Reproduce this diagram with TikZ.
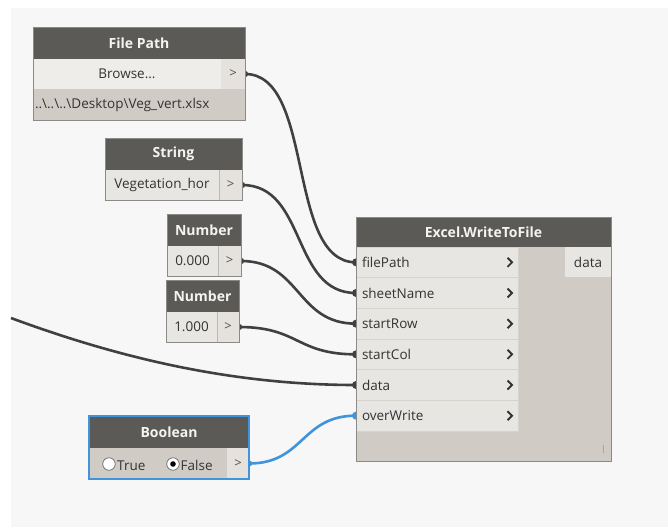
\documentclass[tikz,border=0pt]{standalone}
\usepackage{fontspec}
\setmainfont{Open Sans}
\usetikzlibrary{calc}

\definecolor{canvasgray}{HTML}{F7F7F7}
\definecolor{headgray}{HTML}{5C5A56}
\definecolor{headtext}{HTML}{F4F4F4}
\definecolor{rowlight}{HTML}{E8E6E2}
\definecolor{browselight}{HTML}{EEEDEA}
\definecolor{bodygray}{HTML}{D0CCC5}
\definecolor{portgray}{HTML}{E5E2DD}
\definecolor{framegray}{HTML}{8C8A87}
\definecolor{sepgray}{HTML}{D6D2CC}
\definecolor{inktext}{HTML}{333333}
\definecolor{wiregray}{HTML}{404040}
\definecolor{wireblue}{HTML}{3F94DC}

\pgfdeclarelayer{canvas}
\pgfdeclarelayer{wires}
\pgfsetlayers{canvas,wires,main}

\begin{document}
\begin{tikzpicture}[x=1pt,y=-1pt,
  part/.style 2 args={anchor=north west, inner sep=0pt, outer sep=0pt,
    minimum width=#1pt, minimum height=#2pt},
  title/.style={fill=headgray, text=headtext, font=\bfseries\fontsize{14}{16}\selectfont},
  label/.style={text=inktext, font=\fontsize{13.5}{16}\selectfont},
  portbox/.style={fill=portgray, text=inktext!85, font=\fontsize{13}{16}\selectfont},
  inrow/.style={fill=rowlight, draw=sepgray, line width=0.8pt, label,
    text width=150pt, align=left},
  frame/.style={draw=framegray, line width=1pt},
  chevron/.style={draw=inktext, line width=1.9pt},
  wire/.style={draw=wiregray, line width=2.6pt},
  bluewire/.style={draw=wireblue, line width=2.6pt},
  radio/.style={draw=gray!80!black, fill=white, line width=0.7pt}
]
\useasboundingbox (0,0) rectangle (668,527);

% canvas
\begin{pgfonlayer}{canvas}
  \fill[white] (0,0) rectangle (668,527);
  \fill[canvasgray] (11,8) rectangle (668,527);
\end{pgfonlayer}

% ---------- File Path ----------
\node[part={212}{31}, title] (fpHead) at (33,28) {File Path};
\node[part={188}{30}, fill=browselight, label] (fpBrowse) at (33,59) {Browse...};
\node[part={24}{30}, portbox] (fpPort) at (221,59) {>};
\node[part={212}{31}, fill=bodygray, label, text width=208pt, align=left] (fpPath) at (33,89)
  {..\textbackslash..\textbackslash..\textbackslash Desktop\textbackslash Veg\_vert.xlsx};
\draw[frame] (fpHead.north west) rectangle (fpPath.south east);

% ---------- String ----------
\node[part={137}{32}, title] (strHead) at (105,138) {String};
\node[part={114}{30}, fill=rowlight, label] (strVal) at (105,170) {Vegetation\_hor};
\node[part={23}{30}, portbox] (strPort) at (219,170) {>};
\draw[frame] (strHead.north west) rectangle (strPort.south east);
\draw[framegray!60, line width=0.6pt] (strPort.north west) -- (strPort.south west);

% ---------- Number 0.000 ----------
\node[part={74}{32}, title] (n0Head) at (167,214) {Number};
\node[part={51}{30}, fill=rowlight, label] (n0Val) at (167,246) {0.000};
\node[part={23}{30}, portbox] (n0Port) at (218,246) {>};
\draw[frame] (n0Head.north west) rectangle (n0Port.south east);
\draw[framegray!60, line width=0.6pt] (n0Port.north west) -- (n0Port.south west);

% ---------- Number 1.000 ----------
\node[part={73}{32}, title] (n1Head) at (166,280) {Number};
\node[part={51}{30}, fill=rowlight, label] (n1Val) at (166,312) {1.000};
\node[part={22}{30}, portbox] (n1Port) at (217,312) {>};
\draw[frame] (n1Head.north west) rectangle (n1Port.south east);
\draw[framegray!60, line width=0.6pt] (n1Port.north west) -- (n1Port.south west);

% ---------- Excel.WriteToFile ----------
\node[part={255}{30}, title] (exHead) at (356,217) {Excel.WriteToFile};
\node[part={255}{214}, fill=bodygray] (exBody) at (356,247) {};
\node[part={162}{30.67}, inrow] (exFile)  at (356,247)    {filePath};
\node[part={162}{30.67}, inrow] (exSheet) at (356,277.67) {sheetName};
\node[part={162}{30.67}, inrow] (exRow)   at (356,308.33) {startRow};
\node[part={162}{30.67}, inrow] (exCol)   at (356,339)    {startCol};
\node[part={162}{30.67}, inrow] (exData)  at (356,369.67) {data};
\node[part={162}{30.67}, inrow] (exOver)  at (356,400.33) {overWrite};
\node[part={46}{30}, fill=rowlight, label] (exOut) at (565,247) {data};
\foreach \r in {exFile,exSheet,exRow,exCol,exData,exOver}
  \draw[chevron] ($(\r.east)+(-10.5,-4.5)$) -- ($(\r.east)+(-6,0)$) -- ($(\r.east)+(-10.5,4.5)$);
\draw[gray!70, line width=0.8pt] (603,445) -- (603,453);
\draw[frame] (exHead.north west) rectangle (exBody.south east);

% ---------- Boolean ----------
\node[part={160}{32}, title] (boolHead) at (89,416) {Boolean};
\node[part={138}{31}, fill=bodygray] (boolVal) at (89,448) {};
\node[part={22}{31}, portbox] (boolPort) at (227,448) {>};
\node[radio, circle, minimum size=12.5pt, inner sep=0pt] (rTrue) at (109,464) {};
\node[label, anchor=west, inner sep=0pt] (tTrue) at (117,465.5) {True};
\node[radio, circle, minimum size=12.5pt, inner sep=0pt] (rFalse) at (173,464) {};
\fill[black] (rFalse.center) circle (2.8pt);
\node[label, anchor=west, inner sep=0pt] (tFalse) at (180.5,465.5) {False};
\draw[draw=wireblue, line width=2pt] (boolHead.north west) rectangle (boolPort.south east);

% ---------- connectors ----------
\coordinate (feed) at (11,318);
\begin{pgfonlayer}{wires}
  \draw[wire] (fpPort.east)  .. controls +(70,0) and +(-70,0) .. (exFile.west);
  \draw[wire] (strPort.east) .. controls +(65,0) and +(-65,0) .. (exSheet.west);
  \draw[wire] (n0Port.east)  .. controls +(60,0) and +(-60,0) .. (exRow.west);
  \draw[wire] (n1Port.east)  .. controls +(60,0) and +(-60,0) .. (exCol.west);
  \draw[wire] (feed) .. controls (111,355) and +(-130,0) .. (exData.west);
  \draw[bluewire] (boolPort.east) .. controls +(55,0) and +(-55,0) .. (exOver.west);
  % port nubs
  \foreach \p in {fpPort,strPort,n0Port,n1Port}
    \fill[wiregray] (\p.east) circle (3.2pt);
  \foreach \p in {exFile,exSheet,exRow,exCol,exData}
    \fill[wiregray] (\p.west) circle (4pt);
  \fill[wireblue] (boolPort.east) circle (3.2pt);
  \fill[wireblue] (exOver.west) circle (4pt);
\end{pgfonlayer}
\end{tikzpicture}
\end{document}
